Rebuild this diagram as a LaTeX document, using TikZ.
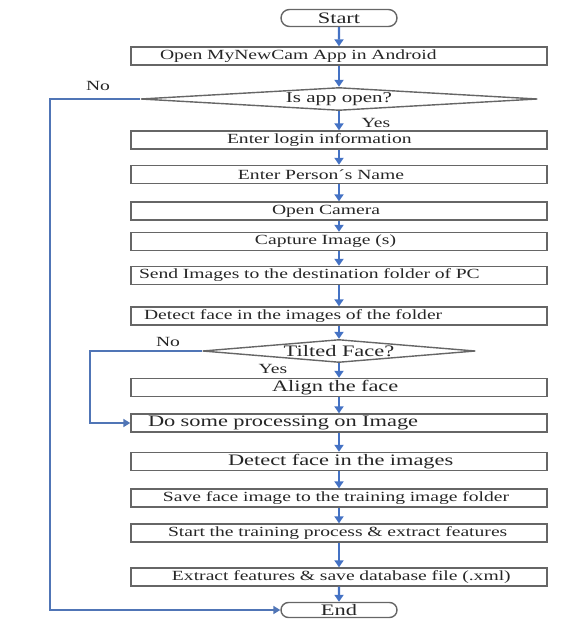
\documentclass[tikz,border=0pt]{standalone}
\usepackage{fontspec}
\setmainfont{Liberation Serif}[FakeStretch=1.4]
\usepackage{tikz}
\usetikzlibrary{shapes.geometric}
\usetikzlibrary{shapes.misc}
\usetikzlibrary{arrows.meta}
\definecolor{flowblue}{RGB}{68,114,196}

\begin{document}
\begin{tikzpicture}[x=0.5pt, y=-0.5pt,
	every node/.style={font=\fontsize{7}{8}\selectfont, text=black!85},
	stepbox/.style={draw=black!60, line width=0.7pt, rectangle, minimum width=208pt, minimum height=9pt, inner sep=0.5pt, text width=200pt, inner xsep=4pt, align=left},
	termbox/.style={draw=black!60, line width=0.7pt, rounded rectangle, minimum width=59pt, minimum height=8.5pt, inner sep=0.5pt, font=\fontsize{8}{9}\selectfont},
	decide/.style={draw=black!60, line width=0.7pt, diamond, inner sep=0pt, minimum height=11.5pt, font=\fontsize{8}{9}\selectfont},
	flow/.style={draw=flowblue, line width=1.2pt, -{Triangle[width=4.5pt,length=3.5pt]}},
	loopline/.style={draw=flowblue!80!gray, line width=0.9pt, -{Triangle[width=4pt,length=3.5pt]}}]
			\useasboundingbox (0,0) rectangle (571,622);
			\node[termbox] (begin) at (339,18) {Start};
			\node[stepbox] (android) at (339,56) {\hspace*{10.5pt}Open MyNewCam App in Android};
			\node[decide, aspect=17, minimum width=198.5pt] (appopen) at (339,99) {\fontsize{7.5}{9}\selectfont Is app open?};
			\node[stepbox] (login) at (339,140) {\hspace*{44pt}Enter login information};
			\node[stepbox] (person) at (339,174.5) {\hspace*{49.5pt}Enter Person´s Name};
			\node[stepbox] (camera) at (339,211) {\hspace*{66.5pt}Open Camera};
			\node[stepbox] (capture) at (339,241.5) {\hspace*{58pt}Capture Image (s)};
			\node[stepbox] (send) at (339,275.5) {Send Images to the destination folder of PC};
			\node[stepbox] (detectfolder) at (339,316) {\hspace*{2.5pt}Detect face in the images of the folder};
			\node[decide, aspect=11, minimum width=136.5pt] (tilted) at (339,351) {Tilted Face?};
			\node[stepbox, font=\fontsize{8}{9}\selectfont] (align) at (339,387.5) {\hspace*{66.5pt}Align the face};
			\node[stepbox, font=\fontsize{8}{9}\selectfont] (process) at (339,423) {\hspace*{4.5pt}Do some processing on Image};
			\node[stepbox, font=\fontsize{8}{9}\selectfont] (detect) at (339,461.5) {\hspace*{44.5pt}Detect face in the images};
			\node[stepbox] (save) at (339,498) {\hspace*{12pt}Save face image to the training image folder};
			\node[stepbox] (train) at (339,533) {\hspace*{14.5pt}Start the training process \& extract features};
			\node[stepbox] (extract) at (339,577) {\hspace*{16.5pt}Extract features \& save database file (.xml)};
			\node[termbox, minimum height=7.5pt] (finish) at (339,610) {End};
			% yes / no labels
			\node (noapp) at (98,86) {No};
			\node (yesapp) at (376,123) {Yes};
			\node (notilt) at (168,342) {No};
			\node (yestilt) at (273,369) {Yes};
			\coordinate (appleft) at (50,99);
			\coordinate (tiltleft) at (90,351);
			% main flow
			\draw[flow] (begin) -- (android);
			\draw[flow] (android) -- (appopen);
			\draw[flow] (appopen) -- (login);
			\draw[flow] (login) -- (person);
			\draw[flow] (person) -- (camera);
			\draw[flow] (camera) -- (capture);
			\draw[flow] (capture) -- (send);
			\draw[flow] (send) -- (detectfolder);
			\draw[flow] (detectfolder) -- (tilted);
			\draw[flow] (tilted) -- (align);
			\draw[flow] (align) -- (process);
			\draw[flow] (process) -- (detect);
			\draw[flow] (detect) -- (save);
			\draw[flow] (save) -- (train);
			\draw[flow] (train) -- (extract);
			\draw[flow] (extract) -- (finish);
			% the two "No" branches
			\draw[loopline] (appopen.west) -- (appleft) |- (finish.west);
			\draw[loopline] (tilted.west) -- (tiltleft) |- (process.west);
		\end{tikzpicture}
\end{document}
